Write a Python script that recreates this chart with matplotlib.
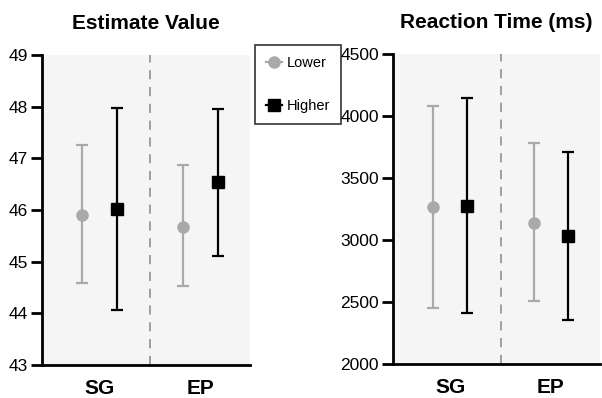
import matplotlib.pyplot as plt
from matplotlib.lines import Line2D

plt.rcParams['font.family'] = ['Liberation Sans', 'DejaVu Sans']

conditions = ["SG", "EP"]
groups = ["Lower", "Higher"]

# Estimate Value: means and error bar ends
est_mean = {"Lower": [45.90, 45.67], "Higher": [46.01, 46.54]}
est_low = {"Lower": [44.58, 44.52], "Higher": [44.06, 45.11]}
est_high = {"Lower": [47.26, 46.88], "Higher": [47.98, 47.96]}

# Reaction time (ms)
rt_mean = {"Lower": [3264, 3140], "Higher": [3277, 3032]}
rt_low = {"Lower": [2449, 2510], "Higher": [2409, 2355]}
rt_high = {"Lower": [4082, 3785], "Higher": [4145, 3710]}

colors = {"Lower": "#a9a9a9", "Higher": "#000000"}
markers = {"Lower": "o", "Higher": "s"}
offsets = {"Lower": -0.17, "Higher": 0.17}

fig = plt.figure(figsize=(6.02, 3.98), dpi=100)
ax1 = fig.add_axes([0.0698, 0.0829, 0.3455, 0.779])
ax2 = fig.add_axes([0.6528, 0.0854, 0.344, 0.779])


def draw_panel(ax, mean, low, high, ylim, yticks, title):
    ax.set_facecolor("#f5f5f5")
    x = [1, 2]
    for g in groups:
        xs = [xi + offsets[g] for xi in x]
        err = [[m - l for m, l in zip(mean[g], low[g])],
               [h - m for m, h in zip(mean[g], high[g])]]
        ax.errorbar(xs, mean[g], yerr=err, fmt=markers[g], color=colors[g],
                    ecolor=colors[g], elinewidth=1.6, capsize=4, capthick=1.6,
                    markersize=8, zorder=3)
    ax.axvline(1.5, color="#888888", lw=1.1, ls=(0, (6, 5)), zorder=1)
    ax.set_xlim(0.43, 2.49)
    ax.set_ylim(*ylim)
    ax.set_yticks(yticks)
    ax.set_xticks(x)
    ax.set_xticklabels(conditions, fontsize=15, fontweight="bold")
    ax.tick_params(axis="x", length=0, pad=10)
    ax.tick_params(axis="y", length=8, width=2, labelsize=12.5, pad=2)
    for s in ["top", "right"]:
        ax.spines[s].set_visible(False)
    for s in ["left", "bottom"]:
        ax.spines[s].set_linewidth(2)
    ax.set_title(title, fontsize=15, fontweight="bold", pad=19)


draw_panel(ax1, est_mean, est_low, est_high, (43, 49), range(43, 50), "Estimate Value")
draw_panel(ax2, rt_mean, rt_low, rt_high, (2000, 4500), range(2000, 4501, 500),
           "Reaction Time (ms)")

handles = [Line2D([0], [0], color=colors[g], marker=markers[g], markersize=8, lw=1.6)
           for g in groups]
leg = fig.legend(handles, groups, loc="upper left", bbox_to_anchor=(0.4236, 0.887),
                 fontsize=10.5, frameon=True, fancybox=False, edgecolor="black",
                 handlelength=1.1, handletextpad=0.3, labelspacing=2.0,
                 borderpad=0.75, borderaxespad=0)
leg.get_frame().set_linewidth(1.2)

fig.savefig("out.png", dpi=100)
